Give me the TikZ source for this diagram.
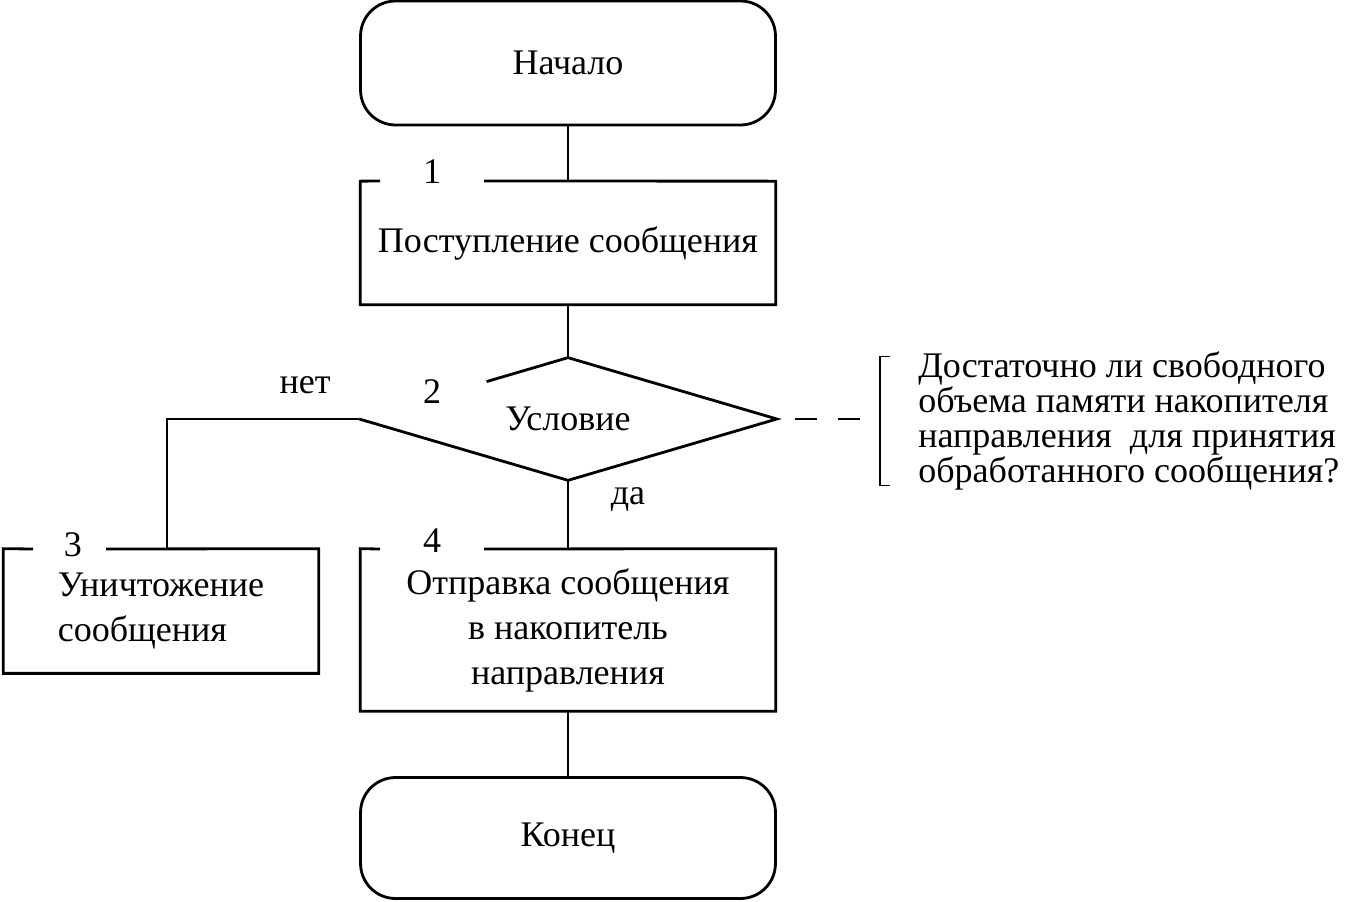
\documentclass[tikz,border=0pt]{standalone}
\usepackage{fontspec}
\setmainfont{Liberation Serif}
\usetikzlibrary{shapes.geometric, calc}

\tikzset{
  term/.style={draw, line width=1.6pt, rounded corners=0.7cm, minimum width=8.3cm},
  block/.style={minimum width=8.3cm, minimum height=2.46cm},
  figure/.style={line width=1.6pt},
  link/.style={line width=1pt}
}

\begin{document}
\begin{tikzpicture}[x=0.02cm, y=-0.02cm, font=\fontsize{20.5}{25.6}\selectfont]
        \useasboundingbox (0,0) rectangle (1348,902);

        \node[term, minimum height=2.48cm] (start) at (568,63) {Начало};

        \node[block] (b1) at (568,243) {Поступление сообщения};
        \node (n1) at (432,172) {1};
        \coordinate (g1a) at (380,181);
        \coordinate (g1b) at (484,181);

        \node[diamond, aspect=3.42, minimum width=8.34cm, minimum height=2.44cm, inner sep=0pt] (cond) at (568,419) {Условие};
        \node (n2) at (432,392) {2};
        \node (no) at (305,385) {нет};
        \node (yes) at (628,500) {да};

        \node[anchor=west, inner xsep=0.76cm, inner ysep=-0.1cm, align=left, font=\fontsize{20.5}{19.9}\selectfont] (note) at (880,421)
            {Достаточно ли свободного\\объема памяти накопителя\\направления~ для принятия\\обработанного сообщения?};

        \node[block, minimum width=6.3cm, minimum height=2.48cm, align=left] (b3) at (161,611) {Уничтожение\\сообщения};
        \node (n3) at (73,545) {3};
        \coordinate (g3a) at (33,549);
        \coordinate (g3b) at (106,549);

        \node[block, minimum height=3.24cm, align=center] (b4) at (568,630) {Отправка сообщения\\в накопитель\\направления};
        \node (n4) at (432,541) {4};
        \coordinate (g4a) at (380,549);
        \coordinate (g4b) at (484,549);

        \node[term, minimum height=2.42cm] (end) at (568,838) {Конец};

        % blocks with a gap for the number
        \draw[figure] (g1b) -- (b1.north east) -- (b1.south east) -- (b1.south west) -- (b1.north west) -- (g1a);
        \draw[figure] (g3b) -- (b3.north east) -- (b3.south east) -- (b3.south west) -- (b3.north west) -- (g3a);
        \draw[figure] (g4b) -- (b4.north east) -- (b4.south east) -- (b4.south west) -- (b4.north west) -- (g4a);
        \draw[figure] ($(cond.west)!0.61!(cond.north)$) -- (cond.north) -- (cond.east) -- (cond.south) -- (cond.west);

        % connectors
        \coordinate (j3) at (167,419);
        \draw[link] (start.south) -- (b1.north);
        \draw[link] (b1.south) -- (cond.north);
        \draw[link] (cond.west) -- (j3) -- (j3 |- b3.north);
        \draw[link] (cond.south) -- (b4.north);
        \draw[link] (b4.south) -- (end.north);

        % comment
        \draw[line width=1.5pt, dash pattern=on 0.44cm off 0.42cm] ([xshift=0.36cm]cond.east) -- ([xshift=-0.4cm]note.west |- cond.east);
        \draw[link] ([xshift=0.2cm]note.north west) -- (note.north west) -- (note.south west) -- ([xshift=0.2cm]note.south west);
\end{tikzpicture}
\end{document}
